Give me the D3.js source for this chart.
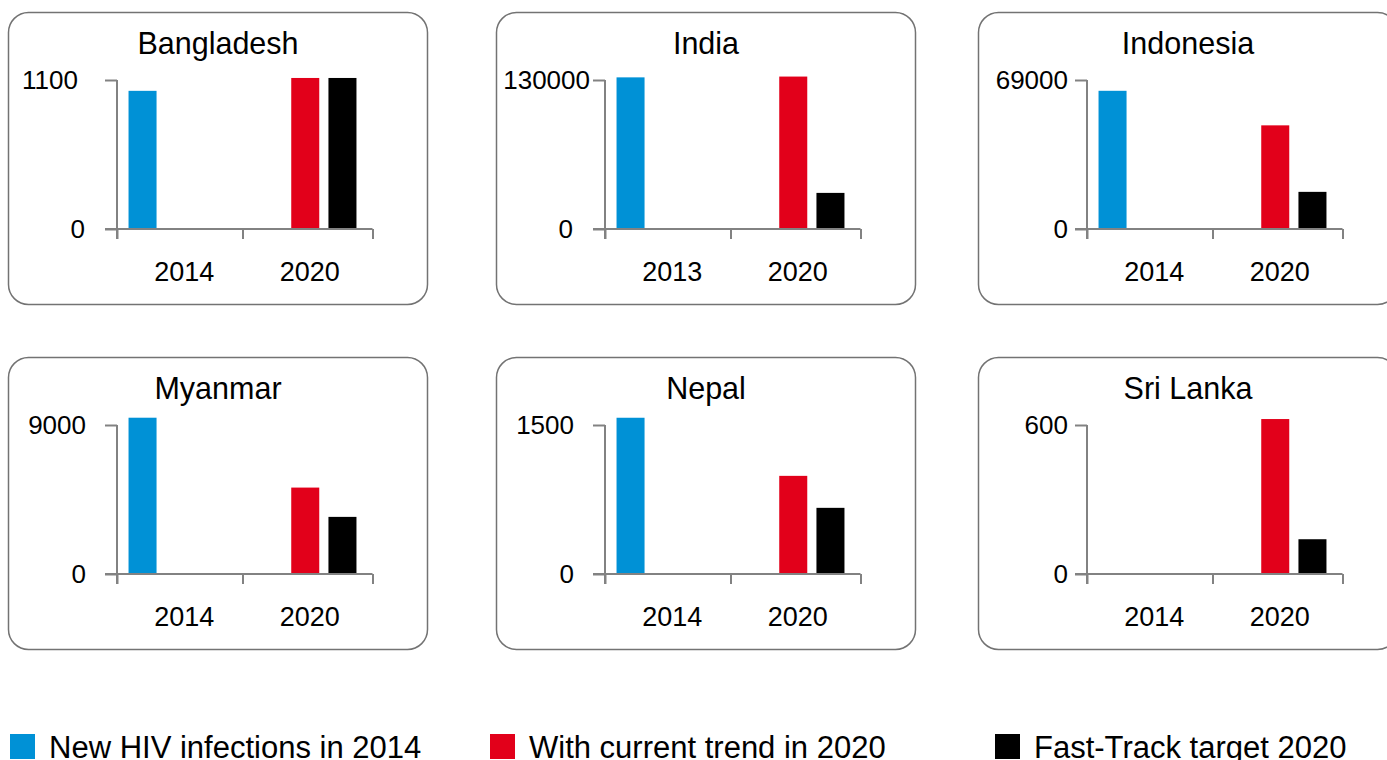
<!DOCTYPE html>
<html lang="en">
  <head>
    <meta charset="utf-8">
    <script src="https://d3js.org/d3.v7.min.js"></script>
    <style>
      body { margin: 0; background: #fff; }
      text { font-family: "Liberation Sans", Arial, sans-serif; fill: #000; }
    </style>
  </head>
  <body>
    <div id="chart"></div>
    <script>
      // data
      const countries = ["Bangladesh", "India", "Indonesia", "Myanmar", "Nepal", "Sri Lanka"];
      const baseYears = ["2014", "2013", "2014", "2014", "2014", "2014"];
      const targetYear = "2020";
      const yMax = [1100, 130000, 69000, 9000, 1500, 600];
      const newInfections = [1020, 132300, 64000, 9440, 1573, null];
      const currentTrend = [1115, 133000, 48000, 5220, 988, 624];
      const fastTrack = [1115, 31500, 17200, 3450, 666, 140];

      const seriesNames = ["New HIV infections in 2014", "With current trend in 2020", "Fast-Track target 2020"];
      const seriesColors = ["#0091d6", "#e2001a", "#000000"];

      // layout
      const W = 1387, H = 760;
      const colX = [8.5, 496.5, 978.5], rowY = [12.5, 357.5];
      const boxW = 419, boxH = 292;
      const axisX = 108.5, plotW = 251, axisW = 255.5, zeroY = 216.5, topY = 67.5;
      // gap between y label right edge and axis: [top label, zero label]
      const labelGap = [[39, 32], [15, 32], [19, 19], [31, 31], [31, 31], [19, 19]];
      const legendX = [10, 490, 995];
      const axisColor = "#828282";

      const svg = d3.select("#chart").append("svg")
        .attr("width", W).attr("height", H);

      countries.forEach(function(name, i) {
        const g = svg.append("g")
          .attr("transform", `translate(${colX[i % 3]}, ${rowY[Math.floor(i / 3)]})`);

        g.append("rect")
          .attr("width", boxW).attr("height", boxH)
          .attr("rx", 20).attr("ry", 20)
          .attr("fill", "none")
          .attr("stroke", "#737373")
          .attr("stroke-width", 1.5);

        g.append("text")
          .attr("x", boxW / 2).attr("y", 41)
          .attr("text-anchor", "middle")
          .style("font-size", "30.5px")
          .text(name);

        const years = [baseYears[i], targetYear];
        const x = d3.scaleBand().domain(years).range([axisX, axisX + plotW]);
        const xs = d3.scaleBand().domain([0, 1, 2])
          .range([0, x.bandwidth()]).paddingInner(0.247).paddingOuter(0.31);
        const y = d3.scaleLinear().domain([0, yMax[i]]).range([zeroY, topY]);

        const vals = [
          {year: years[0], s: 0, v: newInfections[i]},
          {year: targetYear, s: 1, v: currentTrend[i]},
          {year: targetYear, s: 2, v: fastTrack[i]}
        ].filter(d => d.v != null);

        g.selectAll("rect.bar")
          .data(vals)
          .join("rect")
          .attr("class", "bar")
          .attr("x", d => x(d.year) + xs(d.s))
          .attr("y", d => y(d.v))
          .attr("width", xs.bandwidth())
          .attr("height", d => y(0) - y(d.v))
          .attr("fill", d => seriesColors[d.s]);

        // x axis with ticks at category boundaries
        const bounds = [x(years[0]), x(years[1]), axisX + axisW];
        const xAxis = g.append("g")
          .attr("transform", `translate(0, ${zeroY})`)
          .call(d3.axisBottom(d3.scaleIdentity()).tickValues(bounds).tickSize(10).tickSizeOuter(0).tickFormat(""));
        xAxis.select(".domain").remove();
        xAxis.append("line")
          .attr("x1", axisX - 12).attr("x2", axisX + axisW)
          .attr("stroke", axisColor).attr("stroke-width", 2);
        xAxis.selectAll(".tick line").attr("stroke", axisColor).attr("stroke-width", 2);

        // year labels
        const xl = g.append("g")
          .attr("transform", `translate(4.5, ${zeroY})`)
          .call(d3.axisBottom(x).tickSize(0).tickPadding(0));
        xl.select(".domain").remove();
        xl.selectAll("text")
          .attr("y", 52).attr("dy", 0)
          .style("font-size", "27px")
          .attr("fill", "#000");

        // y axis
        const yAxis = g.append("g")
          .attr("transform", `translate(${axisX}, 0)`)
          .call(d3.axisLeft(y).tickValues([0, yMax[i]]).tickSize(12).tickSizeOuter(0).tickFormat(d3.format("d")));
        yAxis.select(".domain").attr("stroke", axisColor).attr("stroke-width", 2)
          .attr("d", `M0,${topY}V${zeroY + 10}`);
        yAxis.selectAll(".tick line").attr("stroke", axisColor).attr("stroke-width", 2);
        yAxis.selectAll(".tick text")
          .attr("x", d => -labelGap[i][d === 0 ? 1 : 0])
          .attr("fill", "#000")
          .style("font-size", "26px");
      });

      // legend (cut by the bottom edge, as in the original)
      const legend = svg.append("g");
      seriesNames.forEach(function(n, k) {
        legend.append("rect")
          .attr("x", legendX[k]).attr("y", 734)
          .attr("width", 25).attr("height", 25)
          .attr("fill", seriesColors[k]);
        legend.append("text")
          .attr("x", legendX[k] + 39).attr("y", 757.5)
          .style("font-size", "31px")
          .text(n);
      });
    </script>
  </body>
</html>
